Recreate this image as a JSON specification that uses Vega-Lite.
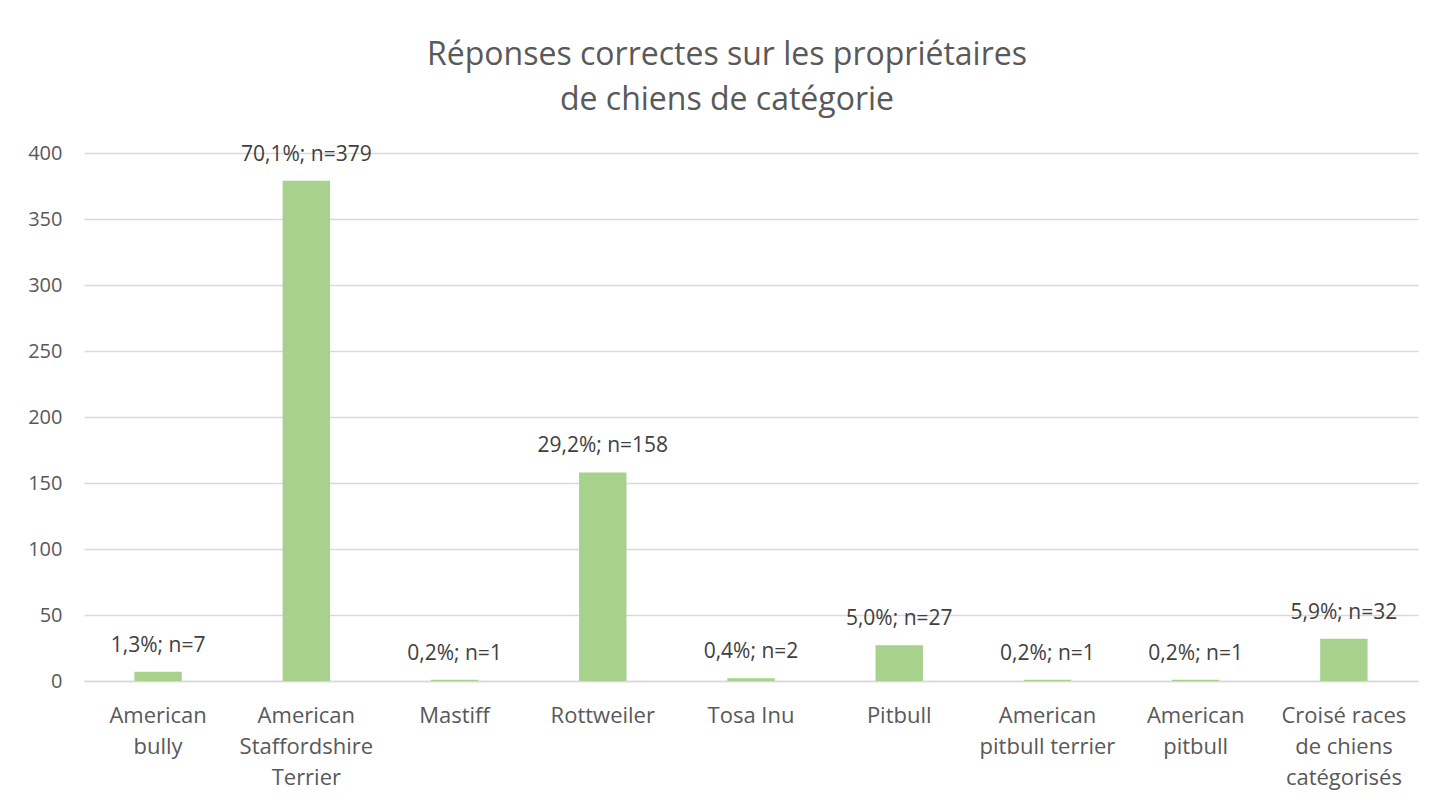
{
  "$schema": "https://vega.github.io/schema/vega-lite/v6.json",
  "width": 1334,
  "height": 528,
  "autosize": "none",
  "padding": {"left": 84, "top": 153, "right": 36, "bottom": 125},
  "background": "white",
  "title": {
    "text": ["Réponses correctes sur les propriétaires", "de chiens de catégorie"],
    "font": "Open Sans",
    "fontSize": 32,
    "fontWeight": "normal",
    "color": "#595959",
    "lineHeight": 45,
    "anchor": "middle",
    "dx": -24,
    "offset": 26
  },
  "data": {
    "values": [
      {"race": "American bully", "n": 7, "label": "1,3%; n=7"},
      {"race": "American Staffordshire Terrier", "n": 379, "label": "70,1%; n=379"},
      {"race": "Mastiff", "n": 1, "label": "0,2%; n=1"},
      {"race": "Rottweiler", "n": 158, "label": "29,2%; n=158"},
      {"race": "Tosa Inu", "n": 2, "label": "0,4%; n=2"},
      {"race": "Pitbull", "n": 27, "label": "5,0%; n=27"},
      {"race": "American pitbull terrier", "n": 1, "label": "0,2%; n=1"},
      {"race": "American pitbull", "n": 1, "label": "0,2%; n=1"},
      {"race": "Croisé races de chiens catégorisés", "n": 32, "label": "5,9%; n=32"}
    ]
  },
  "encoding": {
    "x": {
      "field": "race",
      "type": "nominal",
      "sort": null,
      "scale": {"paddingInner": 0.68, "paddingOuter": 0.34},
      "axis": {
        "title": null,
        "labelAngle": 0,
        "labelFont": "Open Sans",
        "labelFontSize": 22,
        "labelColor": "#595959",
        "labelPadding": 24,
        "labelLineHeight": 31,
        "labelBaseline": "top",
        "ticks": false,
        "domainColor": "#D9D9D9",
        "domainWidth": 1.5,
        "labelLimit": 300,
        "labelExpr": "datum.value == 'American bully' ? ['American', 'bully'] : datum.value == 'American Staffordshire Terrier' ? ['American', 'Staffordshire', 'Terrier'] : datum.value == 'American pitbull terrier' ? ['American', 'pitbull terrier'] : datum.value == 'American pitbull' ? ['American', 'pitbull'] : datum.value == 'Croisé races de chiens catégorisés' ? ['Croisé races', 'de chiens', 'catégorisés'] : datum.value"
      }
    },
    "y": {
      "field": "n",
      "type": "quantitative",
      "scale": {"domain": [0, 400]},
      "axis": {
        "title": null,
        "values": [0, 50, 100, 150, 200, 250, 300, 350, 400],
        "labelFont": "Open Sans",
        "labelFontSize": 20,
        "labelColor": "#595959",
        "labelPadding": 22,
        "ticks": false,
        "domain": false,
        "gridColor": "#D9D9D9",
        "gridWidth": 1.5
      }
    }
  },
  "layer": [
    {"mark": {"type": "bar", "color": "#A9D18E"}},
    {
      "mark": {"type": "text", "font": "Open Sans", "fontSize": 21, "color": "#404040", "baseline": "middle", "dy": -26},
      "encoding": {"text": {"field": "label"}}
    }
  ],
  "config": {"view": {"stroke": null}}
}
